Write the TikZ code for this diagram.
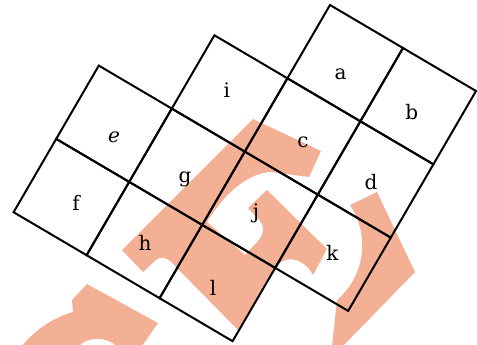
\documentclass[tikz,border=0pt]{standalone}
\usepackage{fontspec}
\setmainfont{DejaVu Serif}
\definecolor{salmon}{RGB}{244,176,148}
\begin{document}
\begin{tikzpicture}[x=1pt,y=-1pt,
  blob/.style={fill=salmon, draw=none},
  cell/.style={line width=2pt, line join=miter},
  lab/.style={font=\fontsize{20}{24}\selectfont, inner sep=0pt}]
\useasboundingbox (0,0) rectangle (477,345);
\clip (0,0) rectangle (477,345);
% salmon shapes
\fill[blob] (253,119) -- (321,151) -- (309,177) -- (272,172)
  .. controls (250,172) and (225,192) .. (207,222)
  -- (245,255) -- (258,241) .. controls (265,233) and (264,225) .. (260,221)
  -- (248,208) -- (267,190) -- (327,249) -- (313,275)
  .. controls (305,260) and (290,255) .. (280,263) -- (268,278) -- (238,330)
  -- (177,268) .. controls (170,259) and (162,255) .. (156,260)
  -- (143,272) -- (122,250) -- cycle;
\fill[blob] (350,205) -- (377,192) -- (415,272) -- (343,346) -- (332,346)
  -- (337,300) arc[start angle=-49.5, end angle=33.7, radius=72pt] -- cycle;
\fill[blob] (87,284) -- (158,323) -- (142,346) -- (116,346)
  .. controls (108,337) and (88,336) .. (79,346) -- (22,346)
  .. controls (34,331) and (52,318) .. (73,312) -- (72,300) -- cycle;
% grid cells
\begin{scope}[shift={(330pt,-5pt)}, x={(73pt,-43pt)}, y={(-42.6pt,-73.3pt)}]
  \foreach \c/\r in {0/0,1/0,-1/1,0/1,1/1,-2/2,-1/2,0/2,1/2,-2/3,-1/3,0/3}
    \draw[cell] (\c,\r) -- ++(1,0) -- ++(0,1) -- ++(-1,0) -- cycle;
\end{scope}
% labels
\node[lab] (la) at (340.7,74) {a};
\node[lab] (lb) at (411.7,111.7) {b};
\node[lab] (lc) at (303,142) {c};
\node[lab] (ld) at (371,182) {d};
\node[lab] (li) at (226.7,90.5) {i};
\node[lab] (le) at (114,137) {\itshape e};
\node[lab] (lg) at (185,179) {g};
\node[lab] (lf) at (76,203) {f};
\node[lab] (lh) at (145,243) {h};
\node[lab] (ll) at (213,288) {l};
\node[lab] (lj) at (256,213) {j};
\node[lab] (lk) at (332.5,253) {k};
\end{tikzpicture}
\end{document}
